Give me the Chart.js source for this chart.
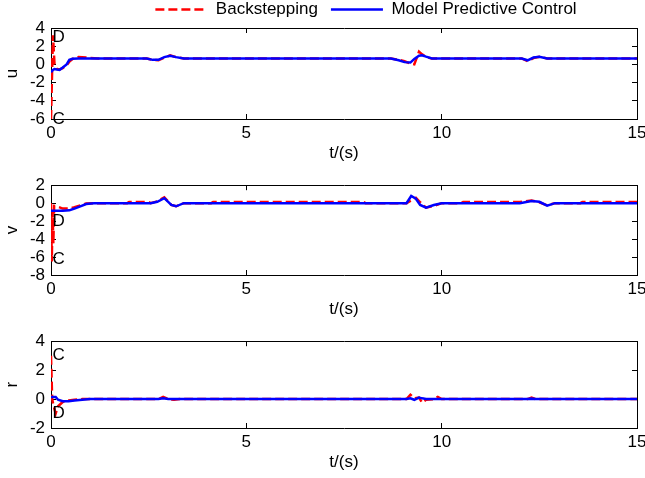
<!DOCTYPE html>
<html>
<head>
<meta charset="utf-8">
<script src="https://cdn.jsdelivr.net/npm/chart.js@4.4.0/dist/chart.umd.min.js"></script>
<style>
html,body{margin:0;padding:0;background:#fff;overflow:hidden;width:645px;height:478px;position:relative}
.box{position:absolute;left:0;width:732px}
canvas{display:block}
</style>
</head>
<body>
<div class="box" style="top:-12px;height:176px"><canvas id="cU"></canvas></div>
<div class="box" style="top:164px;height:156px"><canvas id="cV"></canvas></div>
<div class="box" style="top:320px;height:153px"><canvas id="cR"></canvas></div>
<script>
// time (s) and values
var tU  = [0, 0.05, 0.09, 0.15, 0.22, 0.3, 0.4, 0.47, 0.55, 0.7, 0.9, 1.2, 2.45, 2.6, 2.75, 2.9, 3.05, 3.2, 3.4, 8.7, 8.9, 9.05, 9.2, 9.3, 9.42, 9.5, 9.6, 9.75, 12.05, 12.2, 12.35, 12.5, 12.7, 15];
var uBs = [-6, 3.2, 0.0, -0.5, -0.55, -0.4, -0.1, 0.3, 0.6, 0.8, 0.75, 0.65, 0.65, 0.5, 0.45, 0.75, 1.0, 0.8, 0.65, 0.65, 0.5, 0.35, 0.1, 0.0, 1.4, 1.1, 0.8, 0.65, 0.65, 0.35, 0.7, 0.85, 0.65, 0.65];
var uMpc = [-0.85, -0.6, -0.5, -0.55, -0.6, -0.35, 0.0, 0.5, 0.62, 0.65, 0.65, 0.65, 0.65, 0.5, 0.5, 0.8, 0.95, 0.8, 0.65, 0.65, 0.45, 0.25, 0.2, 0.6, 0.95, 1.0, 0.85, 0.65, 0.65, 0.45, 0.75, 0.85, 0.65, 0.65];

var tV  = [0, 0.02, 0.04, 0.06, 0.08, 0.15, 0.3, 0.47, 0.6, 0.75, 0.9, 1.1, 1.95, 2.0, 2.5, 2.55, 2.72, 2.9, 3.08, 3.2, 3.4, 4.1, 4.15, 8.0, 8.05, 9.1, 9.22, 9.34, 9.45, 9.6, 9.8, 10.0, 10.5, 10.55, 12.0, 12.3, 12.5, 12.7, 12.9, 13.55, 13.6, 15];
var vBs = [0, -6.5, -1.0, -4.5, -0.3, -0.35, -0.6, -0.6, -0.45, -0.25, -0.05, 0, 0, 0.12, 0.12, 0, 0.2, 0.65, -0.2, -0.35, 0, 0, 0.12, 0.12, 0, 0, 0.3, 0.6, 0.1, -0.5, -0.3, 0, 0, 0.12, 0.12, 0.3, 0.1, -0.25, 0, 0, 0.12, 0.12];
var vMpc = [-0.85, -0.85, -0.85, -0.85, -0.85, -0.85, -0.85, -0.8, -0.6, -0.35, -0.1, 0, 0, 0, 0, 0, 0.15, 0.55, -0.2, -0.35, 0, 0, 0, 0, 0, 0, 0.8, 0.5, -0.2, -0.5, -0.2, 0, 0, 0, 0, 0.25, 0.15, -0.28, 0, 0, 0, 0];

var tR  = [0, 0.03, 0.06, 0.12, 0.18, 0.3, 0.45, 0.6, 0.8, 1.0, 2.75, 2.87, 3.0, 3.15, 3.3, 9.1, 9.2, 9.3, 9.42, 9.5, 9.6, 9.8, 9.9, 10.0, 12.2, 12.3, 12.4, 15];
var rBs = [3.0, 0.0, -0.4, -1.0, -0.5, -0.2, -0.1, -0.05, 0, 0, 0, 0.15, 0, -0.05, 0, 0, 0.3, 0.05, 0.1, -0.25, -0.05, 0, 0.15, 0, 0, 0.1, 0, 0];
var rMpc = [0.15, 0.15, 0.15, 0.15, -0.05, -0.15, -0.15, -0.1, -0.05, 0, 0, 0.05, 0, 0, 0, 0, 0.05, -0.05, 0.1, 0.05, 0, 0, 0, 0, 0, 0.03, 0, 0];

var xTicks = [0, 5, 10, 15];
var uNotes = [[0.04, 3.0, 'D'], [0.04, -6.0, 'C']];
var vNotes = [[0.04, -2.0, 'D'], [0.04, -6.2, 'C']];
var rNotes = [[0.04, 3.0, 'C'], [0.04, -1.0, 'D']];

var bsDash = [9, 4];

Chart.defaults.font.family = '"Liberation Sans", Arial, sans-serif';
Chart.defaults.font.size = 17;
Chart.defaults.color = '#000';

function pts(t, v) {
  return t.map(function(x, i) { return {x: x, y: v[i]}; });
}

// C / D markers at data positions
var notePlugin = {
  id: 'notes',
  afterDatasetsDraw: function(chart, args, opts) {
    var ctx = chart.ctx, xs = chart.scales.x, ys = chart.scales.y;
    ctx.save();
    ctx.font = '17px "Liberation Sans", Arial, sans-serif';
    ctx.fillStyle = '#000';
    ctx.textBaseline = 'middle';
    ctx.textAlign = 'left';
    (opts.items || []).forEach(function(n) {
      ctx.fillText(n[2], xs.getPixelForValue(n[0]), ys.getPixelForValue(n[1]));
    });
    ctx.restore();
  }
};

function makeChart(id, t, bs, mpc, yMin, yMax, yName, notes, topArea, bottomH, showLegend) {
  var tick = {display: true, drawOnChartArea: false, drawTicks: true, tickLength: -5, color: '#000', lineWidth: 1};
  return new Chart(document.getElementById(id), {
    type: 'line',
    data: {
      datasets: [
        {label: 'Model Predictive Control', data: pts(t, mpc), xAxisID: 'x', yAxisID: 'y',
         borderColor: '#0000ff', backgroundColor: '#0000ff', borderWidth: 2.5},
        {label: 'Backstepping', data: pts(t, bs), xAxisID: 'x', yAxisID: 'y',
         borderColor: '#ff0000', backgroundColor: '#ff0000', borderWidth: 2.5, borderDash: bsDash}
      ]
    },
    plugins: [notePlugin],
    options: {
      responsive: true,
      maintainAspectRatio: false,
      animation: false,
      layout: {padding: 0},
      elements: {point: {radius: 0}, line: {tension: 0, fill: false}},
      plugins: {
        legend: {
          display: showLegend,
          maxHeight: topArea,
          labels: {
            usePointStyle: true, pointStyle: 'line', pointStyleWidth: 52, padding: 13, color: '#000',
            generateLabels: function(chart) {
              var items = Chart.defaults.plugins.legend.labels.generateLabels(chart);
              items.forEach(function(it) {
                var ds = chart.data.datasets[it.datasetIndex];
                it.lineDash = ds.borderDash || [];
                it.lineWidth = 2.5;
              });
              return items;
            },
            sort: function(a, b) { return b.datasetIndex - a.datasetIndex; }
          }
        },
        tooltip: {enabled: false},
        notes: {items: notes}
      },
      scales: {
        x: {
          type: 'linear', position: 'bottom', min: 0, max: 15,
          afterBuildTicks: function(s) { s.ticks = xTicks.map(function(v) { return {value: v}; }); },
          ticks: {padding: 9, maxRotation: 0, autoSkip: false},
          grid: tick, border: {color: '#000'},
          title: {display: true, text: 't/(s)', padding: 0},
          afterFit: function(s) { s.height = bottomH; }
        },
        xt: {
          type: 'linear', position: 'top', min: 0, max: 15,
          afterBuildTicks: function(s) { s.ticks = xTicks.map(function(v) { return {value: v}; }); },
          ticks: {display: false},
          grid: tick, border: {color: '#000'},
          afterFit: function(s) {
            var lh = s.chart.legend ? s.chart.legend.height : 0;
            s.height = Math.max(topArea - lh, 0);
          }
        },
        y: {
          type: 'linear', position: 'left', min: yMin, max: yMax,
          ticks: {stepSize: 2, padding: 11, autoSkip: false},
          grid: tick, border: {color: '#000'},
          title: {display: true, text: yName, padding: {top: 2}},
          afterFit: function(s) { s.width = 51; }
        },
        yr: {
          type: 'linear', position: 'right', min: yMin, max: yMax,
          ticks: {display: false, stepSize: 2, autoSkip: false},
          grid: tick, border: {color: '#000'},
          afterFit: function(s) { s.width = 95; }
        }
      }
    }
  });
}

makeChart('cU', tU, uBs, uMpc, -6, 4, 'u', uNotes, 40, 45, true);
makeChart('cV', tV, vBs, vMpc, -8, 2, 'v', vNotes, 18, 45, false);
makeChart('cR', tR, rBs, rMpc, -2, 4, 'r', rNotes, 16, 45, false);
</script>
</body>
</html>
